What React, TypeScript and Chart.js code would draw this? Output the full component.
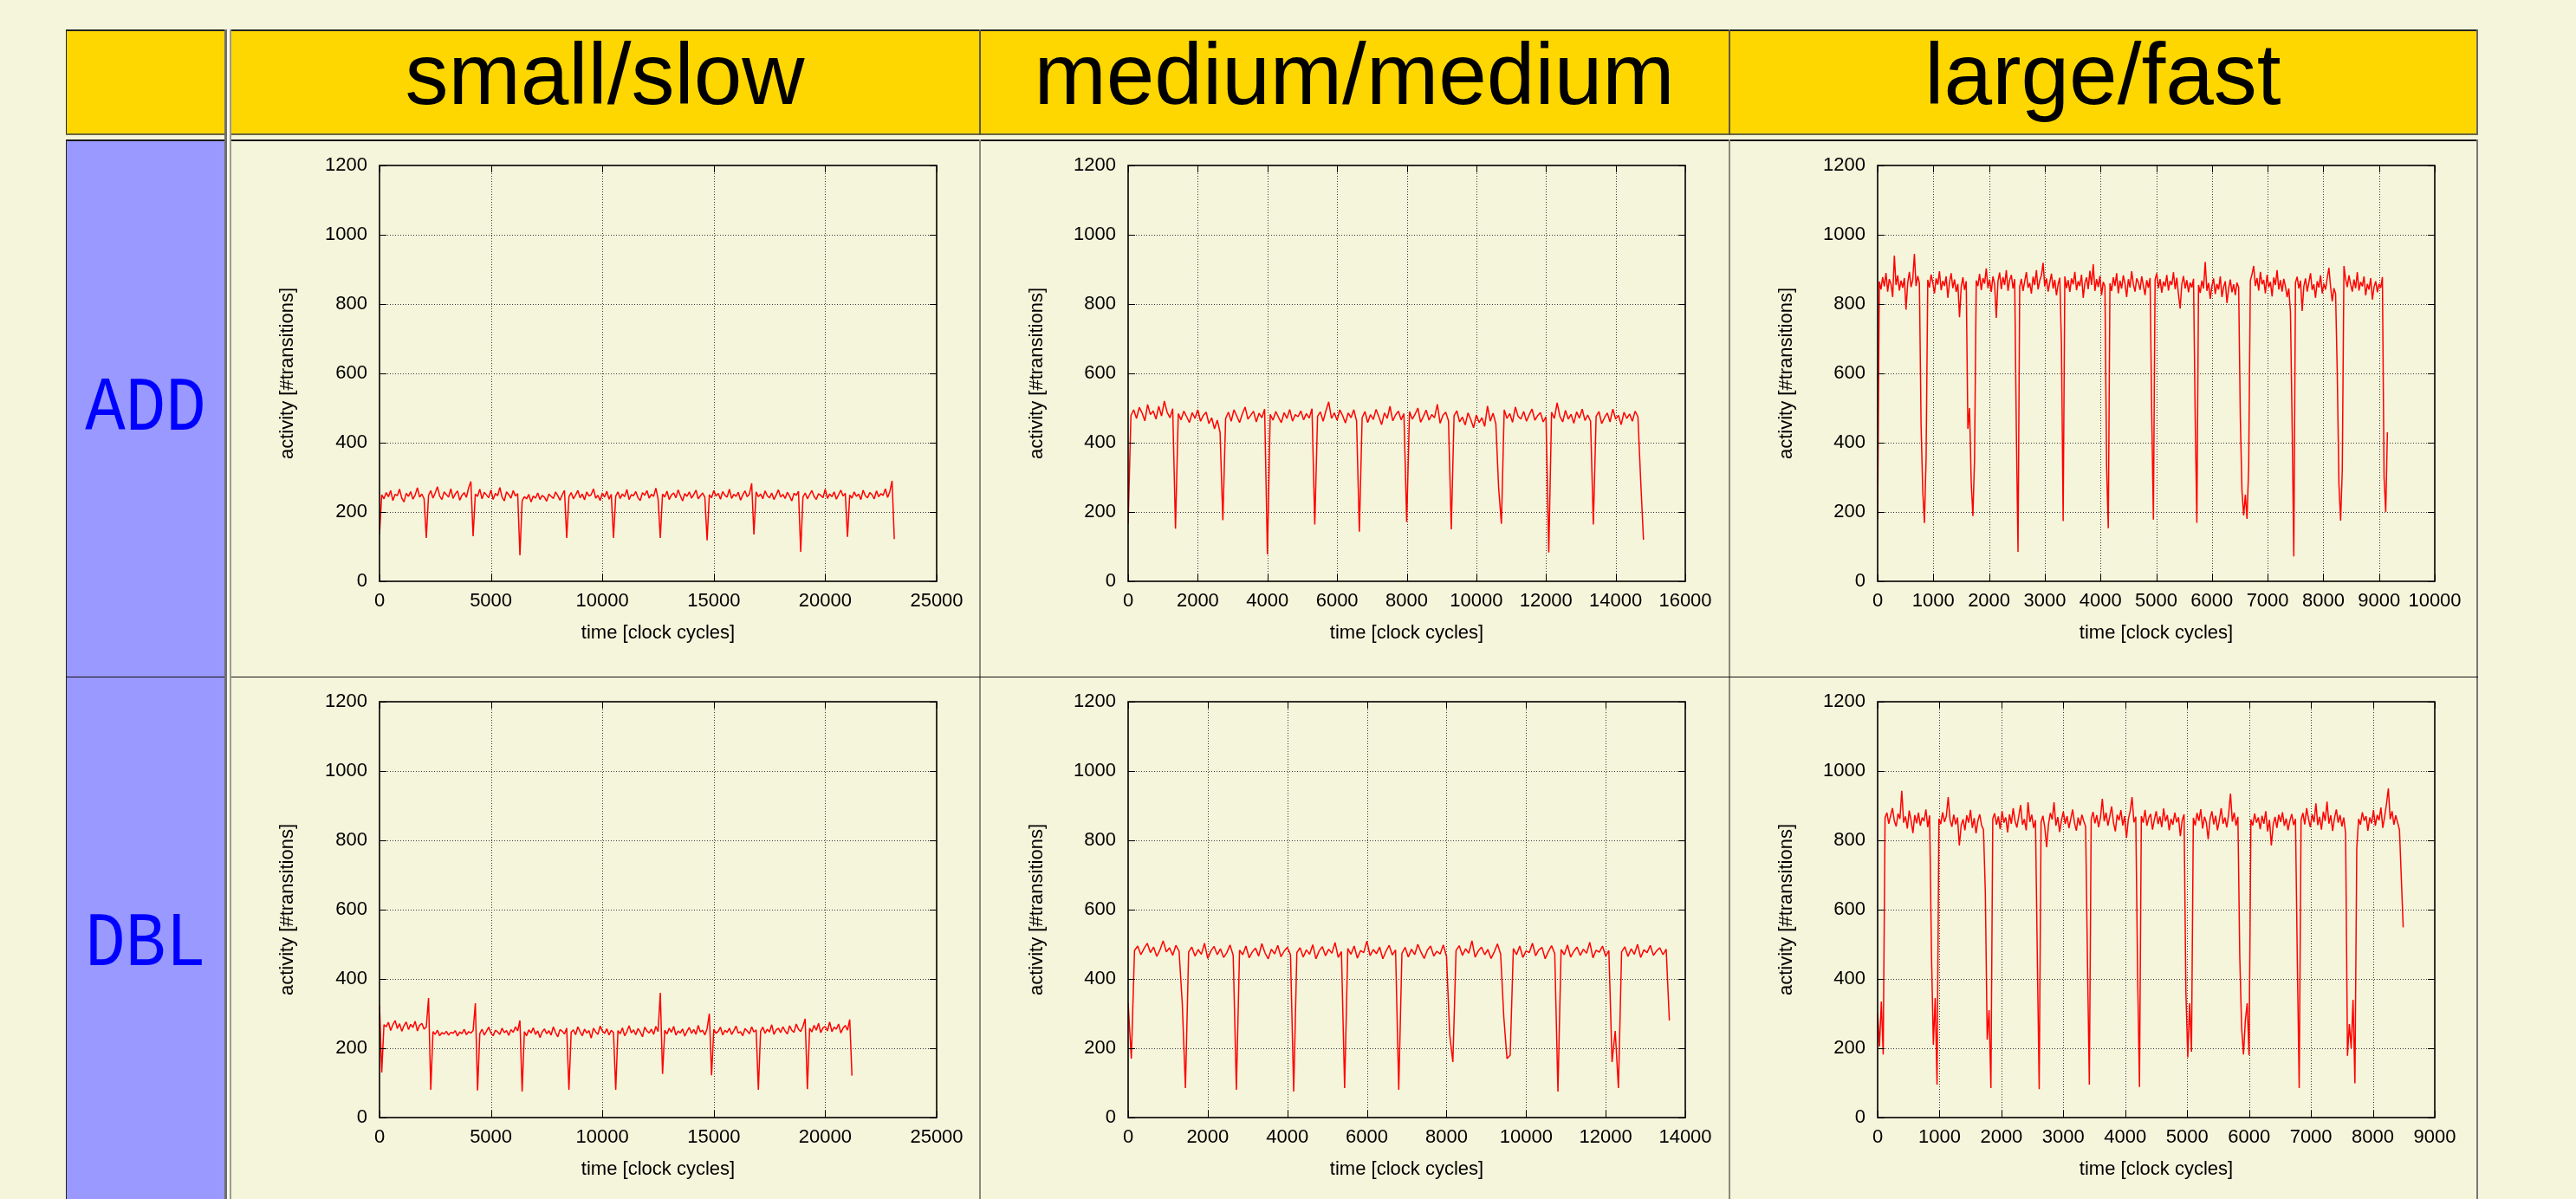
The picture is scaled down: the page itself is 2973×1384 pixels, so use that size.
import React, { useEffect, useRef } from 'react';
import { Chart, registerables } from 'chart.js';

Chart.register(...registerables);
Chart.defaults.font.family = "'Liberation Sans', Arial, Helvetica, sans-serif";
Chart.defaults.font.size = 22;
Chart.defaults.color = '#000';

// ---------- labels ----------
const COLUMN_TITLES = ['small/slow', 'medium/medium', 'large/fast'];
const ROW_TITLES = ['ADD', 'DBL'];
const X_TITLE = 'time [clock cycles]';
const Y_TITLE = 'activity [#transitions]';
const Y_MAX = 1200;
const Y_TICK_STEP = 200;
const X_MAX = [
  [25000, 16000, 10000],
  [25000, 14000, 9000],
];
const X_TICK_STEP = [
  [5000, 2000, 1000],
  [5000, 2000, 1000],
];
// sampling interval (clock cycles) of each trace
const SAMPLE_STEP = [
  [100, 80, 30],
  [100, 80, 30],
];

// ---------- series (activity per sample) ----------
const ADD_SMALL = [
  135, 250, 238, 256, 244, 262, 233, 251, 247, 266, 240, 229, 254, 245, 259, 237, 249, 270, 243, 252, 238,
  125,
  248, 262, 240, 255, 273, 246, 236, 258, 250, 243, 267, 239, 252, 261, 234, 248, 256, 242, 270, 288,
  130,
  252, 245, 266, 238, 257, 249, 241, 263, 236, 254, 247, 271, 243, 232, 258, 250, 240, 262, 246, 253,
  75,
  232, 244, 238, 251, 229, 246, 240, 255, 236, 248, 243, 231, 252, 245, 239, 258, 247, 234, 250, 262,
  125,
  244, 256, 238, 249, 262, 241, 252, 235, 258, 246, 250, 267, 240, 248, 233, 255, 243, 260, 237, 251,
  125,
  246, 258, 239, 252, 244, 265, 236, 250, 247, 259, 241, 233, 256, 248, 262, 240, 251, 245, 269, 238,
  125,
  252, 243, 260, 236, 249, 255, 241, 264, 247, 232, 253, 245, 258, 240, 250, 263, 238, 247, 255, 242,
  118,
  250, 241, 262, 246, 254, 237, 259, 248, 243, 266, 239, 251, 245, 257, 234, 249, 261, 244, 252, 283,
  135,
  258, 244, 252, 238, 261, 247, 241, 255, 236, 249, 264, 243, 251, 239, 257, 246, 232, 254, 248, 260,
  85,
  243, 255, 238, 250, 262, 245, 236, 253, 248, 241, 266, 239, 252, 244, 258, 237, 250, 263, 246, 254,
  128,
  249, 240, 258, 245, 252, 236, 263, 247, 241, 256, 250, 238, 261, 244, 253, 248, 267, 242, 259,
  290, 122,
];

const ADD_MEDIUM = [
  166,
  478, 495, 470, 502, 486, 463, 510, 481, 492, 468, 505, 477, 520, 488, 472, 498,
  152,
  484, 466, 491, 475, 458, 487, 470, 495, 462, 479, 488, 455, 472, 440, 465, 430,
  176,
  470, 488, 462, 495, 477, 458, 483, 503, 468, 479, 491, 460, 485, 472, 497,
  78,
  482, 465, 490, 473, 458, 487, 470, 496, 462, 481, 475, 492, 466, 484, 471, 498,
  164,
  476, 489, 462, 492, 518, 470, 486, 465, 495, 478, 457, 486, 472, 495, 463,
  143,
  472, 490, 458, 481, 467, 496, 475, 452, 486, 470, 505, 463, 480, 491, 466, 484,
  171,
  490, 468, 482, 500, 459, 476, 494, 465, 481, 472, 511, 456, 479, 488, 463,
  150,
  478, 492, 460, 474, 451, 486, 467, 443, 480, 458, 472, 447, 506, 462, 485, 455,
  270, 166,
  495, 470, 484, 459, 503, 476, 468, 490, 462, 481, 497, 465, 478, 487, 460, 475,
  83,
  488, 470, 515, 476, 460, 493, 468, 482, 456, 489, 471, 497, 464, 480, 462,
  164,
  476, 490, 455, 472, 486, 460, 497, 468, 479, 452, 488, 470, 483, 462, 491, 475,
  290, 120,
];

const ADD_LARGE = [
  180,
  865, 842, 878, 851, 890, 836, 872, 858, 820, 940, 855, 883, 839, 868, 847, 875, 784, 861, 893, 849, 870, 945, 852, 881, 860,
  450, 260, 168, 355,
  870, 848, 885, 862, 831, 874, 856, 895, 840, 867, 852, 880, 818, 863, 889, 846, 871, 835, 858, 762, 849, 877, 841, 866,
  440, 500, 285, 188, 355,
  868, 852, 887, 840, 875, 859, 903, 846, 871, 835, 880, 857, 760, 866, 891, 843, 878, 855, 898, 838, 869, 884, 845, 872,
  430, 85,
  850, 873, 838, 866, 892, 847, 861, 830, 879, 855, 898, 842, 868, 883, 919, 851, 874, 836, 862, 888, 845, 870, 825, 858, 876,
  678, 174,
  880, 846, 869, 835, 874, 857, 893, 840, 866, 852, 885, 818, 861, 877, 843, 896, 855, 915, 838, 872, 849, 881, 826, 864, 851,
  330, 153,
  860, 838, 877, 852, 889, 831, 868, 845, 883, 859, 820, 872, 848, 895, 857, 836, 874, 862, 841, 880, 853, 826, 869, 847, 875,
  482, 178,
  870, 889, 846, 872, 833, 865, 851, 884, 839, 867, 855, 892, 843, 876, 828, 787, 858, 881, 845, 869, 834, 862, 848, 873,
  471, 169,
  855, 832, 868, 845, 922, 838, 861, 815, 852, 874, 829, 858, 842, 880, 820, 849, 866, 803, 845, 871, 834, 857, 826, 862, 848,
  470, 260, 190, 250, 180, 330,
  868, 886, 910, 852, 875, 839, 893, 857, 870, 831, 884, 849, 864, 822, 877, 855, 898, 842, 869, 836, 873, 851, 820, 845, 777,
  450, 72,
  862, 879, 845, 868, 780, 851, 874, 836, 862, 889, 841, 857, 818, 866, 848, 883, 831, 859, 842, 875, 905, 850, 808, 846, 830,
  600, 280, 175, 320,
  910, 872, 849, 883, 857, 836, 871, 846, 892, 839, 864, 851, 880, 825, 858, 842, 875, 813, 849, 866, 834, 858, 847, 878,
  300, 200, 430,
];

const DBL_SMALL = [
  325, 130, 268,
  262, 275, 251, 268, 280, 257, 271, 249, 265, 276, 254, 269, 260, 278, 250, 266, 272, 255, 262,
  345, 80,
  248, 240, 252, 236, 245, 241, 249, 238, 246, 243, 251, 235, 247, 242, 255, 239, 248, 244, 251,
  330, 78,
  242, 255, 238, 249, 261, 244, 236, 252, 247, 240, 258, 245, 251, 237, 254, 246, 262, 250,
  280, 75,
  248, 236, 253, 244, 259, 240, 250, 231, 247, 256, 242, 251, 238, 262, 245, 233, 254, 249, 241, 258,
  80,
  246, 253, 239, 262, 248, 236, 255, 244, 251, 229, 258, 247, 240, 264, 250, 243, 256, 238, 252, 245,
  80,
  251, 242, 259, 236, 248, 265, 244, 253, 239, 257, 247, 233, 261, 250, 244, 255, 240, 263, 248,
  360, 126,
  252, 241, 258, 246, 263, 238, 250, 244, 256, 235, 249, 260, 243, 254, 240, 266, 247, 252, 238, 257,
  300, 122,
  255, 243, 249, 261, 238, 252, 246, 258, 240, 251, 264, 244, 248, 236, 257, 250, 242, 262, 247, 253,
  80,
  249, 261, 243, 255, 247, 268, 240, 253, 258, 245, 262, 250, 241, 265, 252, 246, 270, 255, 248, 263,
  285, 82,
  258, 247, 266, 252, 272, 245, 259, 263, 250, 276, 248, 261, 255, 270, 244, 258, 266, 252,
  283, 121,
];

const DBL_MEDIUM = [
  330, 170,
  482, 495, 470, 488, 503, 476, 492, 465, 484, 510, 478, 490, 468, 497, 480,
  330, 85,
  478, 492, 466, 485, 471, 503, 459, 481, 494, 470, 487, 462, 476, 498, 468,
  80,
  483, 470, 495, 461, 478, 489, 466, 502, 475, 458, 486, 472, 497, 464, 480, 491, 470,
  75,
  476, 490, 463, 484, 471, 499, 458, 481, 493, 467, 486, 474, 505, 462, 479,
  85,
  488, 471, 495, 460, 482, 476, 509, 467, 485, 473, 492, 458, 480, 497, 469, 484,
  80,
  474, 491, 463, 486, 470, 500, 477, 459, 483, 495, 466, 480, 472, 498, 465,
  240, 160,
  482, 496, 468, 487, 474, 510, 463, 481, 492, 470, 485, 459, 478, 501, 472,
  290, 170, 180,
  488, 470, 495, 462, 481, 476, 503, 467, 484, 491, 458, 479, 496, 473,
  75,
  485, 470, 498, 463, 480, 492, 468, 486, 474, 506, 461, 483, 477, 495, 466, 482,
  160, 250, 85,
  478, 493, 465, 487, 471, 500, 462, 484, 476, 497, 468, 481, 490, 470, 486,
  280,
];

const DBL_LARGE = [
  300, 205, 335, 182,
  865, 880, 848, 872, 893, 856, 840, 877, 862, 943, 851, 869, 834, 886, 858, 821, 873, 849, 880, 842, 866, 855, 889, 838, 872,
  470, 210, 345, 95,
  862, 847, 881, 853, 870, 925, 858, 839, 874, 846, 866, 785, 843, 861, 829, 872, 851, 888, 836, 864, 820, 857, 875, 843, 831,
  650, 225, 310, 85,
  862, 878, 845, 869, 832, 884, 851, 866, 823, 875, 848, 893, 856, 837, 870, 902, 845, 861, 829, 910, 853, 874, 836, 858,
  459, 82,
  852, 871, 838, 780, 846, 879, 860, 910, 842, 867, 824, 858, 883, 847, 870, 835, 862, 889, 851, 828, 866, 843, 874, 855, 840,
  450, 95,
  861, 882, 849, 873, 838, 866, 920, 855, 880, 842, 869, 898, 851, 826, 874, 858, 887, 843, 870, 807, 861, 884, 925, 852, 868,
  410, 88,
  870, 851, 888, 842, 865, 876, 831, 859, 884, 847, 869, 838, 892, 855, 873, 829, 862, 845, 880, 852, 867, 812, 858, 875,
  360, 174, 330, 190,
  865, 843, 879, 856, 890, 834, 868, 851, 803, 862, 884, 846, 871, 829, 858, 893, 848, 866, 837, 875, 935, 854, 880, 842, 868,
  464, 260, 182, 280, 330, 180,
  860, 843, 877, 851, 866, 832, 871, 848, 884, 826, 859, 785, 845, 868, 836, 874, 853, 881, 842, 863, 829, 857, 876, 844, 862,
  449, 85,
  858, 879, 846, 893, 862, 838, 875, 852, 907, 844, 868, 831, 883, 856, 912, 848, 872, 827, 864, 889, 851, 873, 840, 866, 820,
  178, 270, 200, 340, 99, 777,
  862, 845, 881, 856, 870, 828, 866, 849, 887, 842, 873, 858, 895, 836, 868, 905, 950, 861, 884, 845, 872, 851, 830,
  690, 549,
];

const SERIES = [
  [ADD_SMALL, ADD_MEDIUM, ADD_LARGE],
  [DBL_SMALL, DBL_MEDIUM, DBL_LARGE],
];

// ---------- gnuplot-like frame, dotted grid and inward ticks ----------
const gnuFrame = {
  id: 'gnuFrame',
  beforeDatasetsDraw(chart: any) {
    const { ctx, chartArea: a } = chart;
    const x = chart.scales.x;
    const y = chart.scales.y;
    ctx.save();
    ctx.strokeStyle = '#3a3a3a';
    ctx.lineWidth = 1;
    ctx.setLineDash([1, 2]);
    ctx.beginPath();
    for (const t of x.ticks) {
      const px = Math.round(x.getPixelForValue(t.value)) + 0.5;
      if (px <= a.left + 1 || px >= a.right - 1) continue;
      ctx.moveTo(px, a.top);
      ctx.lineTo(px, a.bottom);
    }
    for (const t of y.ticks) {
      const py = Math.round(y.getPixelForValue(t.value)) + 0.5;
      if (py <= a.top + 1 || py >= a.bottom - 1) continue;
      ctx.moveTo(a.left, py);
      ctx.lineTo(a.right, py);
    }
    ctx.stroke();
    ctx.restore();
  },
  afterDatasetsDraw(chart: any) {
    const { ctx, chartArea: a } = chart;
    const x = chart.scales.x;
    const y = chart.scales.y;
    const tl = 8;
    ctx.save();
    ctx.setLineDash([]);
    ctx.strokeStyle = '#000';
    ctx.lineWidth = 1;
    ctx.beginPath();
    for (const t of x.ticks) {
      const px = Math.round(x.getPixelForValue(t.value)) + 0.5;
      ctx.moveTo(px, a.bottom);
      ctx.lineTo(px, a.bottom - tl);
      ctx.moveTo(px, a.top);
      ctx.lineTo(px, a.top + tl);
    }
    for (const t of y.ticks) {
      const py = Math.round(y.getPixelForValue(t.value)) + 0.5;
      ctx.moveTo(a.left, py);
      ctx.lineTo(a.left + tl, py);
      ctx.moveTo(a.right, py);
      ctx.lineTo(a.right - tl, py);
    }
    ctx.stroke();
    ctx.lineWidth = 1.6;
    ctx.strokeRect(a.left, a.top, a.right - a.left, a.bottom - a.top);
    ctx.restore();
  },
};

// ---------- geometry ----------
const CANVAS_W = 863;
const CANVAS_H = 618;
const PLOT_TOP = 29;
const PLOT_W = 643;
const PLOT_H = 480;
const COL_LEFT = [267, 1132, 1997];
const COL_PLOT_OFFSET = [171, 170, 170];
const ROW_TOP = [162, 781];

type PanelProps = {
  left: number;
  top: number;
  plotOffset: number;
  series: number[];
  step: number;
  xMax: number;
  xStep: number;
};

function Panel({ left, top, plotOffset, series, step, xMax, xStep }: PanelProps) {
  const ref = useRef<HTMLCanvasElement>(null);
  useEffect(() => {
    const canvas = ref.current;
    if (!canvas) return;
    const points = series.map((v, i) => ({ x: i * step, y: v }));
    const chart = new Chart(canvas, {
      type: 'line',
      data: {
        datasets: [
          {
            data: points,
            borderColor: '#ff0000',
            borderWidth: 1.5,
            pointRadius: 0,
            tension: 0,
            fill: false,
            borderJoinStyle: 'bevel',
          },
        ],
      },
      options: {
        responsive: false,
        animation: false,
        devicePixelRatio: 1,
        events: [],
        layout: {
          padding: { left: 0, top: PLOT_TOP, right: CANVAS_W - plotOffset - PLOT_W, bottom: 0 },
        },
        plugins: { legend: { display: false }, tooltip: { enabled: false } },
        scales: {
          x: {
            type: 'linear',
            min: 0,
            max: xMax,
            grid: { display: false, drawTicks: false },
            border: { display: false },
            ticks: {
              stepSize: xStep,
              autoSkip: false,
              maxRotation: 0,
              minRotation: 0,
              padding: 10,
              color: '#000',
              font: { size: 22 },
              callback: (v: any) => String(v),
            },
            title: {
              display: true,
              text: X_TITLE,
              color: '#000',
              font: { size: 22 },
              padding: { top: 0, bottom: 36 },
            },
            afterFit: (s: any) => {
              s.height = CANVAS_H - PLOT_TOP - PLOT_H;
              s.paddingLeft = 0;
              s.paddingRight = 0;
            },
          },
          y: {
            type: 'linear',
            min: 0,
            max: Y_MAX,
            grid: { display: false, drawTicks: false },
            border: { display: false },
            ticks: {
              stepSize: Y_TICK_STEP,
              autoSkip: false,
              padding: 14,
              color: '#000',
              font: { size: 22 },
              callback: (v: any) => String(v),
            },
            title: {
              display: true,
              text: Y_TITLE,
              color: '#000',
              font: { size: 22 },
              padding: { top: 52, bottom: 0 },
            },
            afterFit: (s: any) => {
              s.width = plotOffset;
              s.paddingTop = 0;
              s.paddingBottom = 0;
            },
          },
        },
      } as any,
      plugins: [gnuFrame],
    });
    return () => chart.destroy();
  }, [series, step, xMax, xStep, plotOffset]);
  return (
    <canvas
      ref={ref}
      width={CANVAS_W}
      height={CANVAS_H}
      style={{ position: 'absolute', left, top, width: CANVAS_W, height: CANVAS_H, display: 'block' }}
    />
  );
}

const box = (left: number, top: number, width: number, height: number, background: string) => (
  <div style={{ position: 'absolute', left, top, width, height, background }} />
);

export default function App() {
  const YELLOW = '#FFD700';
  const BLUE = '#9999FF';
  const CREAM = '#F5F5DC';
  const headerCenters = [698, 1563, 2427];
  return (
    <div
      style={{
        position: 'fixed',
        left: 0,
        top: 0,
        width: 2973,
        height: 1384,
        background: CREAM,
        overflow: 'hidden',
      }}
    >
      {/* header band */}
      {box(76, 34, 2784, 122, YELLOW)}
      {box(76, 34, 2784, 2, '#222')}
      {box(76, 34, 1, 122, '#222')}
      {box(76, 154, 2784, 2, '#6b6640')}
      {box(2858, 34, 2, 122, '#666')}
      {box(1130, 34, 2, 122, '#5f5730')}
      {box(1995, 34, 2, 122, '#5f5730')}
      {/* body */}
      {box(77, 162, 182, 1300, BLUE)}
      {box(76, 161, 2784, 2, '#1a1a1a')}
      {box(76, 161, 1, 1300, '#222')}
      {box(2858, 161, 2, 1300, '#777')}
      {box(1130, 161, 2, 1300, '#8a8a7a')}
      {box(1995, 161, 2, 1300, '#8a8a7a')}
      {box(76, 781, 2784, 1, '#111')}
      {/* double separator after first column */}
      {box(259, 34, 3, 1400, '#6e6e6e')}
      {box(262, 34, 3, 1400, '#fbfbee')}
      {box(265, 34, 2, 1400, '#9a9a90')}

      {COLUMN_TITLES.map((t, i) => (
        <div
          key={t}
          style={{
            position: 'absolute',
            left: headerCenters[i] - 500,
            width: 1000,
            top: 35,
            height: 100,
            lineHeight: '100px',
            fontSize: 100,
            fontFamily: "'Liberation Sans', Arial, sans-serif",
            textAlign: 'center',
            color: '#000',
            whiteSpace: 'nowrap',
          }}
        >
          {t}
        </div>
      ))}

      {ROW_TITLES.map((t, r) => (
        <div
          key={t}
          style={{
            position: 'absolute',
            left: 77,
            width: 182,
            top: r === 0 ? 428 : 1046,
            height: 89,
            lineHeight: '89px',
            fontSize: 89,
            fontFamily: "'Liberation Mono', 'Courier New', monospace",
            textAlign: 'center',
            color: '#0000FF',
            whiteSpace: 'nowrap',
            transform: 'scaleX(0.87)',
            transformOrigin: 'center',
          }}
        >
          {t}
        </div>
      ))}

      {ROW_TOP.map((top, r) =>
        COL_LEFT.map((left, c) => (
          <Panel
            key={`${r}-${c}`}
            left={left}
            top={top}
            plotOffset={COL_PLOT_OFFSET[c]}
            series={SERIES[r][c]}
            step={SAMPLE_STEP[r][c]}
            xMax={X_MAX[r][c]}
            xStep={X_TICK_STEP[r][c]}
          />
        ))
      )}
    </div>
  );
}
